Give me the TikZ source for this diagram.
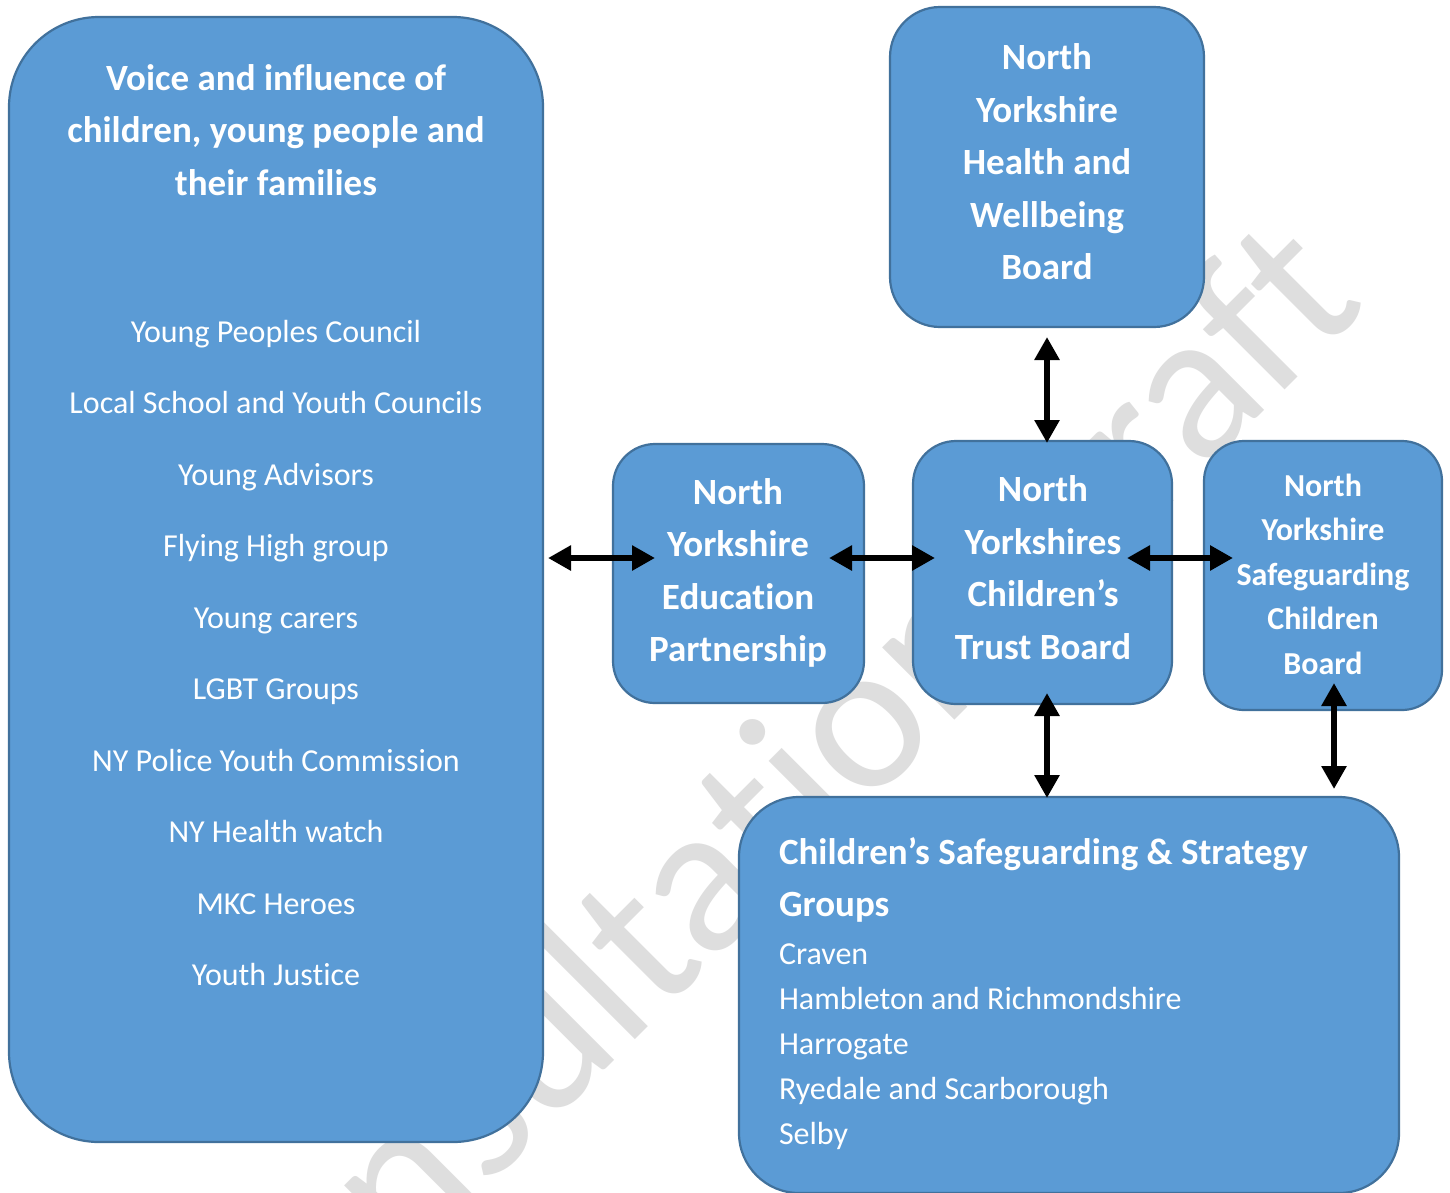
\documentclass[tikz,border=0pt]{standalone}
\usepackage{fontspec}
\setmainfont{Carlito}[Ligatures=NoCommon]
\usetikzlibrary{arrows.meta}
\definecolor{boxfill}{HTML}{5B9BD5}
\definecolor{boxline}{HTML}{41719C}
\definecolor{wmgray}{HTML}{DEDEDE}
\tikzset{
  box/.style={draw=boxline, line width=2.2pt, fill=boxfill, inner sep=0pt, outer sep=0pt},
  txt/.style={text=white, inner sep=0pt, outer sep=0pt},
  bigb/.style={txt, align=center, font=\fontsize{37}{52.5}\selectfont\bfseries},
  midb/.style={txt, align=center, font=\fontsize{32}{44.5}\selectfont\bfseries},
  listr/.style={txt, align=center, font=\fontsize{32}{71.5}\selectfont},
  link/.style={line width=6.5pt, {Triangle[length=23pt,width=24pt]}-{Triangle[length=23pt,width=24pt]}},
  wm/.style={text=wmgray, inner sep=0pt, font=\fontsize{214}{214}\selectfont}
}
\begin{document}
\begin{tikzpicture}[x=1pt,y=-1pt]
\useasboundingbox (0,0) rectangle (1450,1192);
\fill[white] (0,0) rectangle (1450,1192);
% watermark
\node[wm, rotate=45, anchor=base east] (wmark) at (1370,305) {Consultation Draft};
% boxes
\node[box, rounded corners=90pt, minimum width=534pt, minimum height=1125pt] (voice) at (276,579.5) {};
\node[box, rounded corners=50pt, minimum width=314pt, minimum height=320pt] (hwb) at (1047,167) {};
\node[box, rounded corners=42pt, minimum width=251pt, minimum height=259pt] (edu) at (738.5,573.5) {};
\node[box, rounded corners=43pt, minimum width=259pt, minimum height=263pt] (trust) at (1042.5,572.5) {};
\node[box, rounded corners=40pt, minimum width=238pt, minimum height=269pt] (scb) at (1323,575.5) {};
\node[box, rounded corners=60pt, minimum width=660pt, minimum height=396pt] (csg) at (1069,995) {};
% texts
\node[bigb] (voicet) at (276,130) {Voice and influence of\\children, young people and\\their families};
\node[listr] (voicel) at (276,653) {Young Peoples Council\\Local School and Youth Councils\\Young Advisors\\Flying High group\\Young carers\\LGBT Groups\\NY Police Youth Commission\\NY Health watch\\MKC Heroes\\Youth Justice};
\node[bigb] (hwbt) at (1047,162) {North\\Yorkshire\\Health and\\Wellbeing\\Board};
\node[bigb] (edut) at (738,573) {North\\Yorkshire\\Education\\Partnership};
\node[bigb] (trustt) at (1043,567.5) {North\\Yorkshires\\Children’s\\Trust Board};
\node[midb] (scbt) at (1323,574) {North\\Yorkshire\\Safeguarding\\Children\\Board};
\node[bigb, align=left, anchor=west] (csgt) at (779,880) {Children’s Safeguarding \& Strategy\\Groups};
\node[txt, align=left, anchor=west, font=\fontsize{32}{45}\selectfont] (csgl) at (779,1047) {Craven\\Hambleton and Richmondshire\\Harrogate\\Ryedale and Scarborough\\Selby};
% arrow end points
\coordinate (p1) at (548,558);
\coordinate (p2) at (655,558);
\coordinate (p3) at (829,558);
\coordinate (p4) at (935,558);
\coordinate (p5) at (1127,558);
\coordinate (p6) at (1233,558);
\coordinate (q1) at (1047,337);
\coordinate (q2) at (1047,443);
\coordinate (q3) at (1047,693);
\coordinate (q4) at (1047,798);
\coordinate (q5) at (1334,683);
\coordinate (q6) at (1334,789);
\draw[link] (p1) -- (p2);
\draw[link] (p3) -- (p4);
\draw[link] (p5) -- (p6);
\draw[link] (q1) -- (q2);
\draw[link] (q3) -- (q4);
\draw[link] (q5) -- (q6);
\end{tikzpicture}
\end{document}
